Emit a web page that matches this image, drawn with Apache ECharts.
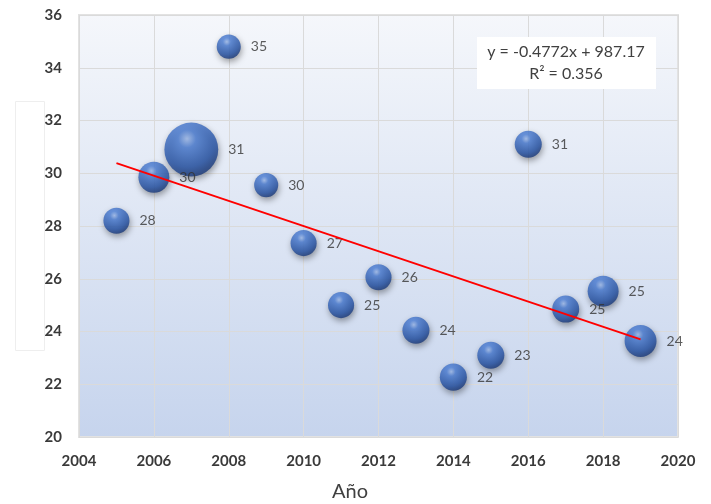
<!DOCTYPE html>
<html><head><meta charset="utf-8">
<script src="https://cdn.jsdelivr.net/npm/echarts@6/dist/echarts.min.js"></script>
<style>html,body{margin:0;padding:0;background:#fff}#c{width:711px;height:504px}</style>
</head><body><div id="c"></div>
<script>
// Data
const years = [2005, 2006, 2007, 2008, 2009, 2010, 2011, 2012, 2013, 2014, 2015, 2016, 2017, 2018, 2019];
const values = [28.2, 29.85, 30.9, 34.8, 29.55, 27.35, 25.0, 26.06, 24.05, 22.27, 23.1, 31.1, 24.85, 25.53, 23.64];
const labels = ['28', '30', '31', '35', '30', '27', '25', '26', '24', '22', '23', '31', '25', '25', '24'];
const bubbleSizes = [6.8, 9.6, 29, 5.8, 5.8, 6.8, 6.8, 6.8, 7.3, 7.3, 7.3, 7.3, 7.3, 9.6, 10.2];
const xTicks = [2004, 2006, 2008, 2010, 2012, 2014, 2016, 2018, 2020];
const yTicks = [20, 22, 24, 26, 28, 30, 32, 34, 36];
const trendSlope = -0.4772;
const trendIntercept = 987.17;
const trendR2 = 0.356;
const xTitle = 'Año';

const FONT = 'Lato, "Open Sans", sans-serif';
const chart = echarts.init(document.getElementById('c'));

const bubbleData = years.map((y, i) => ({ value: [y, values[i], bubbleSizes[i]], label: { formatter: labels[i] } }));
const trendX = [years[0], years[years.length - 1]];
const trendData = trendX.map(x => [x, trendSlope * x + trendIntercept]);

const sphere = new echarts.graphic.RadialGradient(0.42, 0.3, 0.75, [
  { offset: 0, color: '#a3c0f2' },
  { offset: 0.22, color: '#4f82da' },
  { offset: 0.7, color: '#2856aa' },
  { offset: 1, color: '#15316e' }
]);

chart.setOption({
  animation: false,
  grid: {
    left: 79, right: 33, top: 15, bottom: 67,
    show: true,
    borderColor: '#e2e2e2', borderWidth: 2,
    backgroundColor: new echarts.graphic.LinearGradient(0, 0, 0, 1, [
      { offset: 0, color: '#f5f7fb' },
      { offset: 1, color: '#c6d4ed' }
    ])
  },
  xAxis: {
    type: 'value', min: xTicks[0], max: xTicks[xTicks.length - 1], interval: 2,
    axisLine: { show: false }, axisTick: { show: false },
    splitLine: { show: true, lineStyle: { color: '#dadada', width: 1 } },
    axisLabel: { margin: 17, color: '#3a3a3a', fontSize: 15, fontWeight: 'bold', fontFamily: FONT, formatter: v => String(v) }
  },
  yAxis: {
    type: 'value', min: yTicks[0], max: yTicks[yTicks.length - 1], interval: 2,
    axisLine: { show: false }, axisTick: { show: false },
    splitLine: { show: true, lineStyle: { color: '#dadada', width: 1 } },
    axisLabel: { margin: 17, color: '#3a3a3a', fontSize: 15, fontWeight: 'bold', fontFamily: FONT }
  },
  series: [
    {
      type: 'scatter',
      data: bubbleData,
      symbolSize: d => 10 * Math.sqrt(d[2]),
      itemStyle: {
        color: sphere,
        shadowBlur: 6, shadowColor: 'rgba(0,0,0,0.45)', shadowOffsetY: 3, shadowOffsetX: 1
      },
      label: {
        show: true, position: 'right', distance: 10,
        color: '#333333', fontSize: 14, fontFamily: FONT
      },
      z: 2
    },
    {
      type: 'line',
      data: trendData,
      symbol: 'none',
      lineStyle: { color: '#ff0000', width: 2 },
      z: 3
    }
  ],
  graphic: [
    {
      type: 'rect', left: 15, top: 101,
      shape: { width: 29, height: 249 },
      style: { fill: '#ffffff', stroke: '#eeeeee', lineWidth: 1 }
    },
    {
      type: 'rect', left: 477, top: 37, z: 10,
      shape: { width: 179, height: 52 },
      style: { fill: '#ffffff' }
    },
    {
      type: 'text', x: 566, y: 52, z: 11,
      style: {
        text: 'y = ' + trendSlope + 'x + ' + trendIntercept,
        fill: '#404040', font: '16px ' + FONT, textAlign: 'center', textVerticalAlign: 'middle'
      }
    },
    {
      type: 'text', x: 566, y: 74, z: 11,
      style: {
        text: 'R² = ' + trendR2,
        fill: '#404040', font: '16px ' + FONT, textAlign: 'center', textVerticalAlign: 'middle'
      }
    },
    {
      type: 'text', x: 350, y: 492,
      style: { text: xTitle, fill: '#404040', font: '20px ' + FONT, textAlign: 'center', textVerticalAlign: 'middle' }
    }
  ]
});
</script>
</body></html>
